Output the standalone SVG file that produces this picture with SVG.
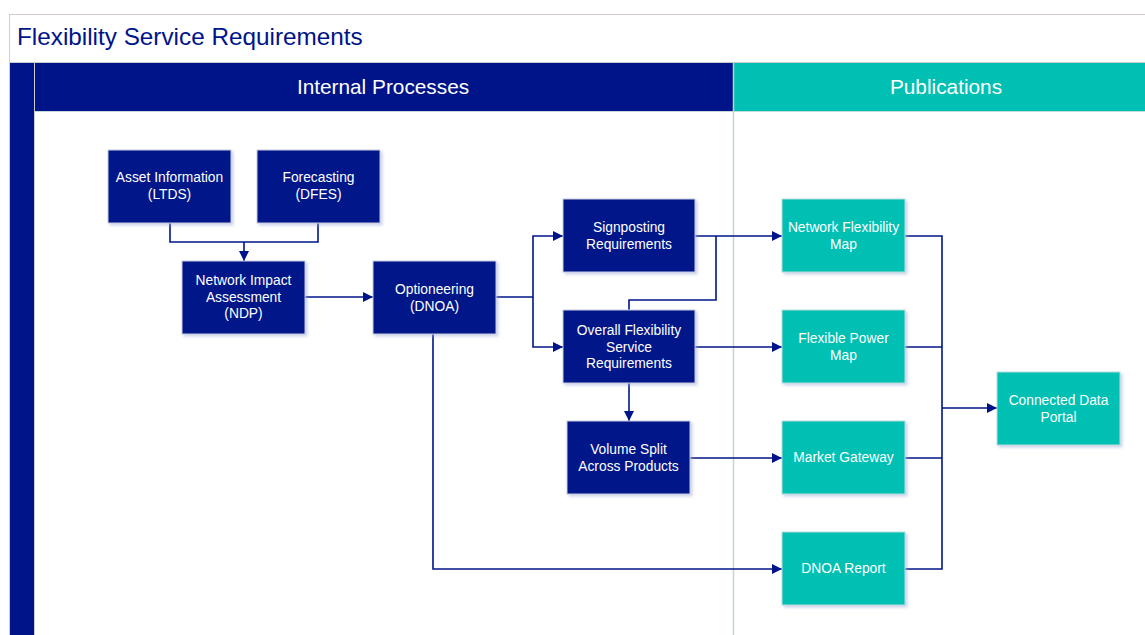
<svg xmlns="http://www.w3.org/2000/svg" width="1145" height="635" viewBox="0 0 1145 635">
<defs>
<marker id="arr" viewBox="0 0 10 10" refX="10" refY="5" markerWidth="10" markerHeight="10" markerUnits="userSpaceOnUse" orient="auto">
<path d="M0,0 L10,5 L0,10 z" fill="#001489"/>
</marker>
<filter id="sh" x="-10%" y="-10%" width="130%" height="130%">
<feDropShadow dx="2" dy="2" stdDeviation="1.5" flood-color="#9aa7d8" flood-opacity="0.5"/>
</filter>
</defs>
<style>
.nav{fill:#001489;stroke:#c9cde0;stroke-width:1;filter:url(#sh)}
.tea{fill:#00bfb3;stroke:#b9dedb;stroke-width:1;filter:url(#sh)}
.t{font-family:"Liberation Sans",Arial,sans-serif;font-size:13.8px;fill:#ffffff;text-anchor:middle}
.h{font-family:"Liberation Sans",Arial,sans-serif;font-size:20.8px;fill:#ffffff;text-anchor:middle}
.c{fill:none;stroke:#001489;stroke-width:1.6}
</style>
<rect x="0" y="0" width="1145" height="635" fill="#ffffff"/>
<g id="frame">
<rect x="9.5" y="14.5" width="1140" height="630" fill="#ffffff" stroke="#dcc8c8" stroke-width="1"/>
<text x="17" y="45" font-family="Liberation Sans,Arial,sans-serif" font-size="24.3px" fill="#001489">Flexibility Service Requirements</text>
<line x1="9" y1="62.5" x2="1145" y2="62.5" stroke="#cccccc" stroke-width="1"/>
<rect x="10" y="63" width="24" height="572" fill="#001489"/>
<line x1="34.5" y1="63" x2="34.5" y2="635" stroke="#cccccc" stroke-width="1"/>
</g>
<g id="lane-internal">
<rect x="35" y="63" width="698" height="48" fill="#001489"/>
<text class="h" x="383" y="94">Internal Processes</text>
</g>
<g id="lane-publications">
<rect x="733" y="63" width="412" height="48" fill="#00bfb3"/>
<text class="h" x="946" y="94">Publications</text>
<line x1="733.5" y1="63" x2="733.5" y2="635" stroke="#c4d4d4" stroke-width="1.5"/>
<line x1="35" y1="111.5" x2="1145" y2="111.5" stroke="#c8d8d8" stroke-width="1"/>
</g>
<g id="connectors">
<path class="c" d="M170,223 V242 H318 V223"/>
<path class="c" d="M244,242 V261" marker-end="url(#arr)"/>
<path class="c" d="M305,297 H373" marker-end="url(#arr)"/>
<path class="c" d="M496,297 H533 V236 H563" marker-end="url(#arr)"/>
<path class="c" d="M533,297 V347 H563" marker-end="url(#arr)"/>
<path class="c" d="M695,236 H782" marker-end="url(#arr)"/>
<path class="c" d="M629,310 V300 H716 V236"/>
<path class="c" d="M695,347 H782" marker-end="url(#arr)"/>
<path class="c" d="M629,383 V421" marker-end="url(#arr)"/>
<path class="c" d="M690,458 H782" marker-end="url(#arr)"/>
<path class="c" d="M433,334 V569 H782" marker-end="url(#arr)"/>
<path class="c" d="M905,236 H942 V569 H905"/>
<path class="c" d="M905,347 H942"/>
<path class="c" d="M905,458 H942"/>
<path class="c" d="M942,408 H997" marker-end="url(#arr)"/>
</g>
<g id="asset-info">
<rect class="nav" x="108" y="150" width="123" height="73"/>
<text class="t" x="169.5" y="182">Asset Information</text>
<text class="t" x="169.5" y="199">(LTDS)</text>
</g>
<g id="forecasting">
<rect class="nav" x="257" y="150" width="123" height="73"/>
<text class="t" x="318.5" y="182">Forecasting</text>
<text class="t" x="318.5" y="199">(DFES)</text>
</g>
<g id="ndp">
<rect class="nav" x="182" y="261" width="123" height="73"/>
<text class="t" x="243.5" y="285">Network Impact</text>
<text class="t" x="243.5" y="302">Assessment</text>
<text class="t" x="243.5" y="318">(NDP)</text>
</g>
<g id="optioneering">
<rect class="nav" x="373" y="261" width="123" height="73"/>
<text class="t" x="434.5" y="294">Optioneering</text>
<text class="t" x="434.5" y="311">(DNOA)</text>
</g>
<g id="signposting">
<rect class="nav" x="563" y="199" width="132" height="73"/>
<text class="t" x="629" y="232">Signposting</text>
<text class="t" x="629" y="249">Requirements</text>
</g>
<g id="overall">
<rect class="nav" x="563" y="310" width="132" height="73"/>
<text class="t" x="629" y="335">Overall Flexibility</text>
<text class="t" x="629" y="352">Service</text>
<text class="t" x="629" y="368">Requirements</text>
</g>
<g id="volume-split">
<rect class="nav" x="567" y="421" width="123" height="73"/>
<text class="t" x="628.5" y="454">Volume Split</text>
<text class="t" x="628.5" y="471">Across Products</text>
</g>
<g id="nfm">
<rect class="tea" x="782" y="199" width="123" height="73"/>
<text class="t" x="843.5" y="232">Network Flexibility</text>
<text class="t" x="843.5" y="249">Map</text>
</g>
<g id="fpm">
<rect class="tea" x="782" y="310" width="123" height="73"/>
<text class="t" x="843.5" y="343">Flexible Power</text>
<text class="t" x="843.5" y="360">Map</text>
</g>
<g id="market-gateway">
<rect class="tea" x="782" y="421" width="123" height="73"/>
<text class="t" x="843.5" y="462">Market Gateway</text>
</g>
<g id="dnoa-report">
<rect class="tea" x="782" y="532" width="123" height="73"/>
<text class="t" x="843.5" y="573">DNOA Report</text>
</g>
<g id="portal">
<rect class="tea" x="997" y="372" width="123" height="73"/>
<text class="t" x="1058.5" y="405">Connected Data</text>
<text class="t" x="1058.5" y="422">Portal</text>
</g>
</svg>
